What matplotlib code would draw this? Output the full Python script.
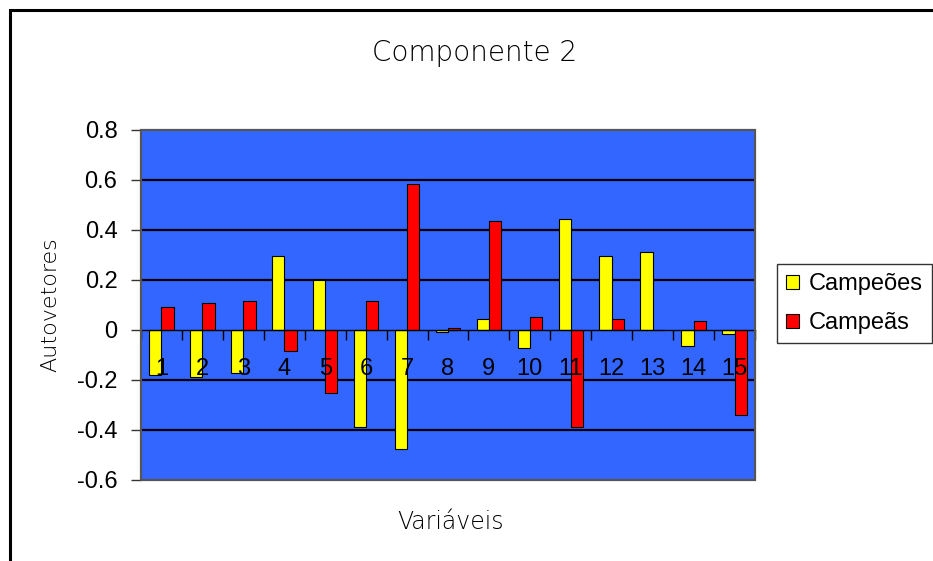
import matplotlib
matplotlib.use("Agg")
import matplotlib.pyplot as plt
from matplotlib.patches import Rectangle
from matplotlib.ticker import FixedLocator, FuncFormatter

# eigenvector loadings, component 2
variaveis = list(range(1, 16))
campeoes = [-0.179, -0.188, -0.172, 0.297, 0.201, -0.388, -0.475, -0.007,
            0.045, -0.071, 0.444, 0.297, 0.312, -0.063, -0.016]
campeas = [0.094, 0.110, 0.117, -0.084, -0.250, 0.117, 0.584, 0.008,
           0.436, 0.053, -0.388, 0.045, 0.0, 0.038, -0.340]
yticks = [-0.6, -0.4, -0.2, 0, 0.2, 0.4, 0.6, 0.8]

W, H = 933, 561
fig = plt.figure(figsize=(W / 100, H / 100), dpi=100)
ax = fig.add_axes([141 / W, 1 - 480 / H, 614 / W, 350 / H])
ax.set_facecolor("#3366FF")
ax.set_axisbelow(False)  # category numbers sit on top of the bars

# gridlines under the bars
for y in yticks:
    if y not in (0, -0.6, 0.8):
        ax.axhline(y, color="black", lw=1.6, zorder=0.5)

bw = 0.3
ax.bar([x - bw / 2 for x in variaveis], campeoes, width=bw, color="#FFFF00",
       edgecolor="black", lw=0.8, zorder=2, label="Campeões")
ax.bar([x + bw / 2 for x in variaveis], campeas, width=bw, color="#FF0000",
       edgecolor="black", lw=0.8, zorder=2, label="Campeãs")

ax.set_xlim(0.5, 15.5)
ax.set_ylim(-0.6, 0.8)

# category axis sits at zero, ticks at category boundaries
for s in ("top", "right"):
    ax.spines[s].set_visible(False)
ax.spines["bottom"].set_position(("data", 0))
ax.spines["bottom"].set_linewidth(1.0)
ax.spines["left"].set_color("#333333")
ax.spines["left"].set_linewidth(1.2)
ax.add_patch(Rectangle((0, 0), 1, 1, transform=ax.transAxes, fill=False,
                       edgecolor="#555555", lw=1.6, zorder=3, clip_on=False))

ax.xaxis.set_major_locator(FixedLocator([x + 0.5 for x in range(0, 16)]))
ax.xaxis.set_major_formatter(FuncFormatter(lambda v, p: ""))
ax.xaxis.set_minor_locator(FixedLocator(variaveis))
ax.xaxis.set_minor_formatter(FuncFormatter(lambda v, p: f"{int(round(v))}"))
ax.tick_params(axis="x", which="major", length=7, width=1, direction="out")
ax.tick_params(axis="x", which="minor", length=0, pad=20, labelsize=17)

ax.set_yticks(yticks)
ax.yaxis.set_major_formatter(FuncFormatter(lambda v, p: f"{v:g}"))
ax.tick_params(axis="y", length=7, width=1, direction="out", pad=10,
               labelsize=17, color="#333333")
for lab in ax.get_xticklabels(minor=True) + ax.get_yticklabels():
    lab.set_family("Liberation Sans")

fig.text(0.509, 1 - 53 / H, "Componente 2", ha="center", va="center",
         fontsize=20, family="DejaVu Sans", fontweight="light")
fig.text(0.483, 1 - 522 / H, "Variáveis", ha="center", va="center",
         fontsize=17, family="DejaVu Sans", fontweight="light")
fig.text(50 / W, 1 - 305 / H, "Autovetores", ha="center", va="center",
         rotation=90, fontsize=16, family="DejaVu Sans", fontweight="light")

leg = fig.legend(loc="upper left", bbox_to_anchor=(777 / W, 1 - 264 / H),
                 frameon=True, fancybox=False, borderaxespad=0,
                 prop={"family": "Liberation Sans", "size": 17},
                 handlelength=0.55, handleheight=0.55, handletextpad=0.4,
                 labelspacing=0.7, borderpad=0.4)
leg.get_frame().set_edgecolor("black")
leg.get_frame().set_linewidth(1.0)

# outer chart-area border, running off the right and bottom edges
fig.add_artist(Rectangle((10 / W, -0.1), 1.2, 1.1 - 10 / H, transform=fig.transFigure,
                         fill=False, edgecolor="black", lw=2.2))

fig.savefig("out.png", dpi=100)
